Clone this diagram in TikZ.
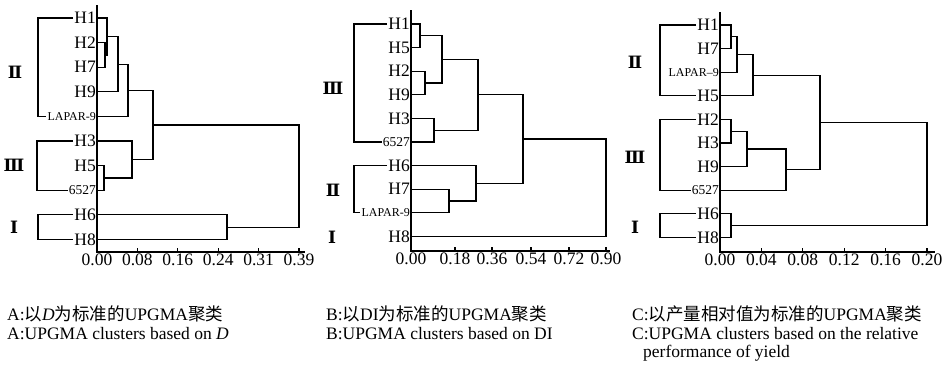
\documentclass[tikz,border=0pt]{standalone}
\usepackage{fontspec}
\setmainfont{Liberation Serif}
\newfontfamily\cjk{Noto Sans CJK SC}
\newfontfamily\romfont{DejaVu Serif}
\newcommand\zhtext[1]{{\cjk #1}}
\usepackage{tikz}
\usetikzlibrary{positioning}

\begin{document}
\begin{tikzpicture}[
    x=1pt, y=-1pt,
    leaf/.style={anchor=east, inner xsep=1pt, inner ysep=0pt, font=\fontsize{17.5}{17.5}\selectfont},
    tag/.style={leaf, font=\fontsize{12}{12}\selectfont},
    code/.style={leaf, font=\fontsize{13.5}{13.5}\selectfont},
    group/.style={inner sep=0pt, font=\romfont\bfseries\fontsize{17}{17}\selectfont},
    ticklabel/.style={anchor=base, inner sep=0pt, font=\fontsize{17.5}{17.5}\selectfont},
    caption/.style={anchor=base west, inner sep=0pt, font=\fontsize{17.5}{20}\selectfont},
    link/.style={line width=1.2pt},
    brace/.style={line width=1.1pt}
]
\useasboundingbox (0,0) rectangle (948,370);

\node[leaf] (aH1) at (97,18) {H1};
\node[leaf] (aH2) at (97,42.6) {H2};
\node[leaf] (aH7) at (97,67.2) {H7};
\node[leaf] (aH9) at (97,91.8) {H9};
\node[tag] (aL9) at (97,116.4) {LAPAR-9};
\node[leaf] (aH3) at (97,141) {H3};
\node[leaf] (aH5) at (97,165.6) {H5};
\node[code] (a6527) at (97,190.2) {6527};
\node[leaf] (aH6) at (97,214.8) {H6};
\node[leaf] (aH8) at (97,239.4) {H8};
\coordinate (a1) at (105,54.9);
\coordinate (a2) at (107,36.5);
\coordinate (a3) at (118,64.2);
\coordinate (a4) at (128,90.3);
\coordinate (a5) at (104,177.9);
\coordinate (a6) at (132,159.5);
\coordinate (a7) at (153,124.9);
\coordinate (a8) at (227,227.1);
\coordinate (a9) at (299,176);
\draw[link] (aH2.east) -| (a1) |- (aH7.east);
\draw[link] (aH1.east) -| (a2) |- (a1);
\draw[link] (a2) -| (a3) |- (aH9.east);
\draw[link] (a3) -| (a4) |- (aL9.east);
\draw[link] (aH5.east) -| (a5) |- (a6527.east);
\draw[link] (aH3.east) -| (a6) |- (a5);
\draw[link] (a4) -| (a7) |- (a6);
\draw[link] (aH6.east) -| (a8) |- (aH8.east);
\draw[link] (a7) -| (a9) |- (a8);
\coordinate (aTop) at (97,5);
\coordinate (aO) at (97,252);
\coordinate (aEnd) at (305,252);
\draw[link] (aTop) -- (aO) -- (aEnd);
\foreach \x/\v [count=\i] in {97/0.00, 137.4/0.08, 177.8/0.16, 218.2/0.24, 258.6/0.31, 299/0.39} {
    \draw[link] (\x,252) -- (\x,248);
    \node[ticklabel] (aT\i) at (\x,265.5) {\v};
}
\coordinate (aII) at (38,67);
\coordinate (aIII) at (37,165);
\coordinate (aI) at (38,227);
\draw[brace] (aH1.west) -| (aII) |- (aL9.west);
\draw[brace] (aH3.west) -| (aIII) |- (a6527.west);
\draw[brace] (aH6.west) -| (aI) |- (aH8.west);
\node[group] (aGII) at (15,72) {Ⅱ};
\node[group] (aGIII) at (14,165) {Ⅲ};
\node[group] (aGI) at (14,227) {Ⅰ};

\node[leaf] (bH1) at (411,24) {H1};
\node[leaf] (bH5) at (411,47.6) {H5};
\node[leaf] (bH2) at (411,71.2) {H2};
\node[leaf] (bH9) at (411,94.8) {H9};
\node[leaf] (bH3) at (411,118.4) {H3};
\node[code] (b6527) at (411,142) {6527};
\node[leaf] (bH6) at (411,165.6) {H6};
\node[leaf] (bH7) at (411,189.2) {H7};
\node[tag] (bL9) at (411,212.8) {LAPAR-9};
\node[leaf] (bH8) at (411,236.4) {H8};
\coordinate (b1) at (420,35.8);
\coordinate (b2) at (425,83);
\coordinate (b3) at (442,59.4);
\coordinate (b4) at (434,130.2);
\coordinate (b5) at (478,94.8);
\coordinate (b6) at (449,201);
\coordinate (b7) at (476,183.3);
\coordinate (b8) at (523,139.05);
\coordinate (b9) at (606,187.7);
\draw[link] (bH1.east) -| (b1) |- (bH5.east);
\draw[link] (bH2.east) -| (b2) |- (bH9.east);
\draw[link] (b1) -| (b3) |- (b2);
\draw[link] (bH3.east) -| (b4) |- (b6527.east);
\draw[link] (b3) -| (b5) |- (b4);
\draw[link] (bH7.east) -| (b6) |- (bL9.east);
\draw[link] (bH6.east) -| (b7) |- (b6);
\draw[link] (b5) -| (b8) |- (b7);
\draw[link] (b8) -| (b9) |- (bH8.east);
\coordinate (bTop) at (411,10);
\coordinate (bO) at (411,251);
\coordinate (bEnd) at (610,251);
\draw[link] (bTop) -- (bO) -- (bEnd);
\foreach \x/\v [count=\i] in {411/0.00, 455/0.18, 492/0.36, 531/0.54, 569/0.72, 606/0.90} {
    \draw[link] (\x,251) -- (\x,247);
    \node[ticklabel] (bT\i) at (\x,264.5) {\v};
}
\coordinate (bIII) at (354,83);
\coordinate (bII) at (354,189);
\draw[brace] (bH1.west) -| (bIII) |- (b6527.west);
\draw[brace] (bH6.west) -| (bII) |- (bL9.west);
\node[group] (bGIII) at (333,88) {Ⅲ};
\node[group] (bGII) at (333,190) {Ⅱ};
\node[group] (bGI) at (332,237) {Ⅰ};

\node[leaf] (cH1) at (720,25) {H1};
\node[leaf] (cH7) at (720,48.6) {H7};
\node[tag] (cL9) at (720,72.2) {LAPAR–9};
\node[leaf] (cH5) at (720,95.8) {H5};
\node[leaf] (cH2) at (720,119.4) {H2};
\node[leaf] (cH3) at (720,143) {H3};
\node[leaf] (cH9) at (720,166.6) {H9};
\node[code] (c6527) at (720,190.2) {6527};
\node[leaf] (cH6) at (720,213.8) {H6};
\node[leaf] (cH8) at (720,237.4) {H8};
\coordinate (c1) at (731,36.8);
\coordinate (c2) at (737,54.5);
\coordinate (c3) at (753,75.15);
\coordinate (c4) at (731,131.2);
\coordinate (c5) at (747,148.9);
\coordinate (c6) at (786,169.55);
\coordinate (c7) at (820,122.35);
\coordinate (c8) at (731,225.6);
\coordinate (c9) at (927,174);
\draw[link] (cH1.east) -| (c1) |- (cH7.east);
\draw[link] (c1) -| (c2) |- (cL9.east);
\draw[link] (c2) -| (c3) |- (cH5.east);
\draw[link] (cH2.east) -| (c4) |- (cH3.east);
\draw[link] (c4) -| (c5) |- (cH9.east);
\draw[link] (c5) -| (c6) |- (c6527.east);
\draw[link] (c3) -| (c7) |- (c6);
\draw[link] (cH6.east) -| (c8) |- (cH8.east);
\draw[link] (c7) -| (c9) |- (c8);
\coordinate (cTop) at (720,12);
\coordinate (cO) at (720,252);
\coordinate (cEnd) at (935,252);
\draw[link] (cTop) -- (cO) -- (cEnd);
\foreach \x/\v [count=\i] in {720/0.00, 761.4/0.04, 802.8/0.08, 844.2/0.12, 885.6/0.16, 927/0.20} {
    \draw[link] (\x,252) -- (\x,248);
    \node[ticklabel] (cT\i) at (\x,265.5) {\v};
}
\coordinate (cII) at (660,60);
\coordinate (cIII) at (660,155);
\coordinate (cI) at (660,226);
\draw[brace] (cH1.west) -| (cII) |- (cH5.west);
\draw[brace] (cH2.west) -| (cIII) |- (c6527.west);
\draw[brace] (cH6.west) -| (cI) |- (cH8.west);
\node[group] (cGII) at (635,62) {Ⅱ};
\node[group] (cGIII) at (635,157) {Ⅲ};
\node[group] (cGI) at (635,227) {Ⅰ};

\node[caption] (capA1) at (7,320) {A:\zhtext{以}\textit{D}\zhtext{为标准的}UPGMA\zhtext{聚类}};
\node[caption] (capA2) at (7,339) {A:UPGMA clusters based on \textit{D}};
\node[caption] (capB1) at (326,320) {B:\zhtext{以}DI\zhtext{为标准的}UPGMA\zhtext{聚类}};
\node[caption] (capB2) at (326,339) {B:UPGMA clusters based on DI};
\node[caption] (capC1) at (632,320) {C:\zhtext{以产量相对值为标准的}UPGMA\zhtext{聚类}};
\node[caption] (capC2) at (632,339) {C:UPGMA clusters based on the relative};
\node[caption] (capC3) at (643,357) {performance of yield};
\end{tikzpicture}
\end{document}
